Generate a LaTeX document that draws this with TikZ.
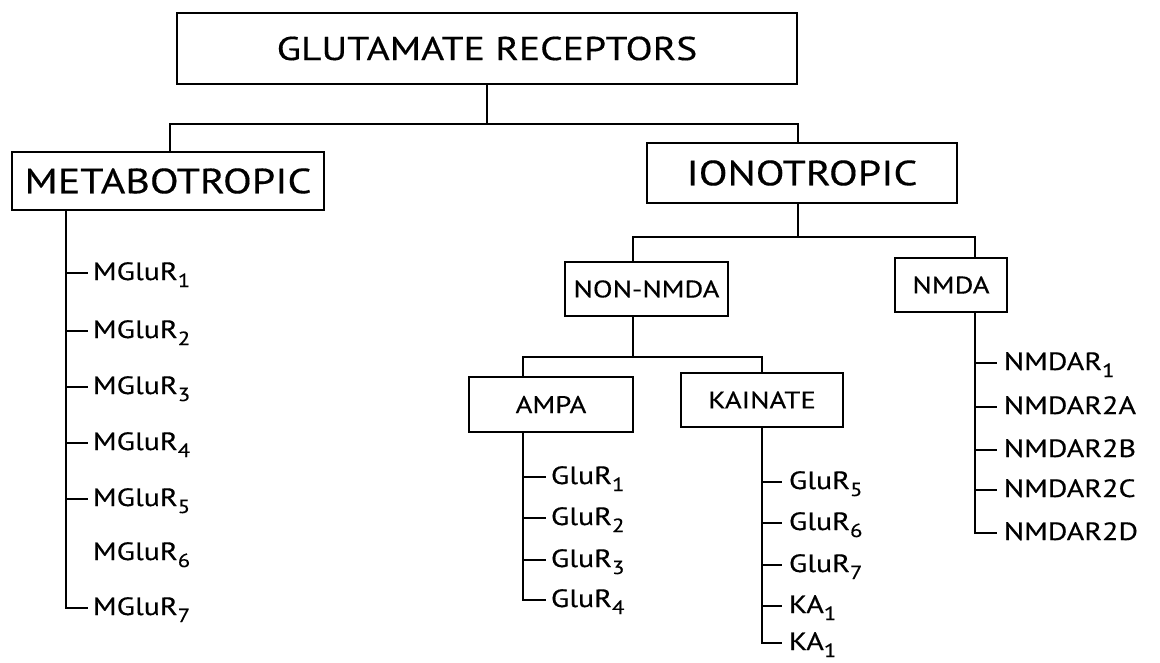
\documentclass[tikz,border=0pt]{standalone}
\usepackage{fontspec}
\setmainfont{PT Sans}[FakeStretch=1.2,FakeBold=0.4]
\newcommand\lowsub[1]{\raisebox{-7pt}{\fontsize{19}{19}\selectfont #1}}
\begin{document}
\begin{tikzpicture}[x=1pt,y=-1pt,line width=1.8pt,
  box/.style={draw,line width=1.8pt,inner sep=0pt,align=center},
  bigf/.style={font=\fontsize{35}{35}\selectfont},
  topf/.style={font=\fontsize{33}{33}\selectfont},
  midf/.style={font=\fontsize{24}{24}\selectfont},
  leaf/.style={anchor=west,inner sep=0pt,text height=14pt,text depth=0pt,font=\fontsize{25}{25}\selectfont}]
\useasboundingbox (0,0) rectangle (1160,662);
% boxes
\node[box,topf,minimum width=620,minimum height=71] (top) at (487,48.5) {GLUTAMATE RECEPTORS};
\node[box,bigf,minimum width=312,minimum height=58] (meta) at (168,181) {METABOTROPIC};
\node[box,bigf,minimum width=310,minimum height=60] (iono) at (802,173) {IONOTROPIC};
\node[box,midf,minimum width=163,minimum height=54] (nonnmda) at (646.5,289) {NON-NMDA};
\node[box,midf,minimum width=112,minimum height=54] (nmda) at (951,285) {NMDA};
\node[box,midf,minimum width=164,minimum height=55] (ampa) at (551,404.5) {AMPA};
\node[box,midf,minimum width=162,minimum height=54] (kain) at (762,400) {KAINATE};
% junctions
\coordinate (jm) at (170,124);
\coordinate (ji) at (798,124);
\coordinate (jn) at (633,237);
\coordinate (jd) at (975,237);
\coordinate (ja) at (523,357);
\coordinate (jk) at (762,357);
\coordinate (ms) at (66,0);
\draw (top.south) -- (top.south |- jm);
\draw (meta.north -| jm) -- (jm) -- (ji) -- (iono.north -| ji);
\draw (iono.south -| ji) -- (ji |- jn);
\draw (nonnmda.north -| jn) -- (jn) -- (jd) -- (nmda.north -| jd);
\draw (nonnmda.south -| jn) -- (jn |- ja);
\draw (ampa.north -| ja) -- (ja) -- (jk) -- (kain.north -| jk);
% metabotropic leaves
\node[leaf] (m1) at (92,273) {MGluR\lowsub{1}};
\node[leaf] (m2) at (92,331) {MGluR\lowsub{2}};
\node[leaf] (m3) at (92,387) {MGluR\lowsub{3}};
\node[leaf] (m4) at (92,443) {MGluR\lowsub{4}};
\node[leaf] (m5) at (92,499) {MGluR\lowsub{5}};
\node[leaf] (m6) at (92,553) {MGluR\lowsub{6}};
\node[leaf] (m7) at (92,608) {MGluR\lowsub{7}};
\draw (meta.south -| ms) |- ([xshift=-4]m7.west);
\foreach \i in {1,...,5} \draw (ms |- m\i.west) -- ([xshift=-4]m\i.west);
% AMPA leaves
\node[leaf] (a1) at (550,477) {GluR\lowsub{1}};
\node[leaf] (a2) at (550,518) {GluR\lowsub{2}};
\node[leaf] (a3) at (550,560) {GluR\lowsub{3}};
\node[leaf] (a4) at (550,600) {GluR\lowsub{4}};
\draw (ampa.south -| ja) |- ([xshift=-4]a4.west);
\foreach \i in {1,2,3} \draw (ja |- a\i.west) -- ([xshift=-4]a\i.west);
% KAINATE leaves
\node[leaf] (k1) at (788,482) {GluR\lowsub{5}};
\node[leaf] (k2) at (788,523) {GluR\lowsub{6}};
\node[leaf] (k3) at (788,565) {GluR\lowsub{7}};
\node[leaf] (k4) at (788,606) {KA\lowsub{1}};
\node[leaf] (k5) at (788,643) {KA\lowsub{1}};
\draw (kain.south -| jk) |- ([xshift=-6]k5.west);
\foreach \i in {1,...,4} \draw (jk |- k\i.west) -- ([xshift=-6]k\i.west);
% NMDA leaves
\node[leaf] (n1) at (1003,363) {NMDAR\lowsub{1}};
\node[leaf] (n2) at (1003,407) {NMDAR2A};
\node[leaf] (n3) at (1003,450) {NMDAR2B};
\node[leaf] (n4) at (1003,490) {NMDAR2C};
\node[leaf] (n5) at (1003,533) {NMDAR2D};
\draw (nmda.south -| jd) |- ([xshift=-6]n5.west);
\foreach \i in {1,...,4} \draw (jd |- n\i.west) -- ([xshift=-6]n\i.west);
\end{tikzpicture}
\end{document}
